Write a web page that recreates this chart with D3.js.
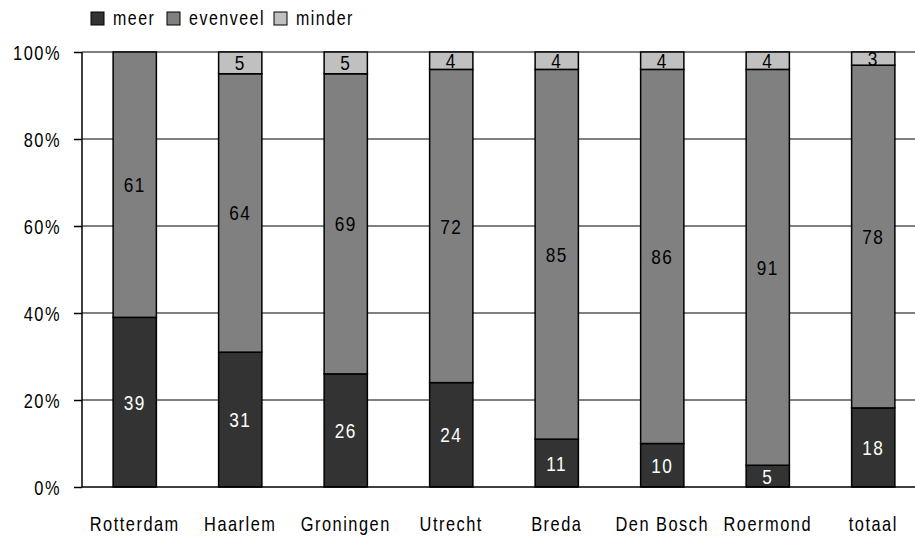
<!DOCTYPE html>
<html lang="nl">
<head>
<meta charset="utf-8">
<script src="https://d3js.org/d3.v7.min.js"></script>
<style>
  body { margin: 0; background: #fff; overflow: hidden; }
  text { font-family: "Liberation Sans", Arial, sans-serif; }
</style>
</head>
<body>
<script>
const categories = ["Rotterdam", "Haarlem", "Groningen", "Utrecht", "Breda", "Den Bosch", "Roermond", "totaal"];
const meer     = [39, 31, 26, 24, 11, 10, 5, 18];
const evenveel = [61, 64, 69, 72, 85, 86, 91, 78];
const minder   = [0, 5, 5, 4, 4, 4, 4, 3];
const seriesNames = ["meer", "evenveel", "minder"];
const yTicks = [0, 20, 40, 60, 80, 100];

const width = 915, height = 538;
const narrow = 0.82; // squeeze factor to imitate a narrow font
const colors = { meer: "#333333", evenveel: "#808080", minder: "#c0c0c0" };
const labelColors = { meer: "#ffffff", evenveel: "#000000", minder: "#000000" };

const svg = d3.select("body").append("svg")
  .attr("width", width).attr("height", height);

const x = d3.scaleBand().domain(categories).range([82, 926]).paddingInner(0.59).paddingOuter(0.295);
const y = d3.scaleLinear().domain([0, 1]).range([487, 52]);

// narrow text helper
function narrowText(sel, px, py, size, anchor) {
  return sel.append("text")
    .attr("transform", `translate(${px},${py}) scale(${narrow},1)`)
    .attr("text-anchor", anchor || "start")
    .attr("font-size", size)
    .attr("letter-spacing", 1.5 / narrow);
}

// gridlines
svg.append("g").selectAll("line").data(yTicks.slice(1)).enter().append("line")
  .attr("x1", 82).attr("x2", width)
  .attr("y1", d => y(d / 100)).attr("y2", d => y(d / 100))
  .attr("stroke", "#000").attr("stroke-width", 1);

// stacked data, normalised to 100%
const rows = categories.map((c, i) => ({ cat: c, meer: meer[i], evenveel: evenveel[i], minder: minder[i] }));
const stacked = d3.stack().keys(seriesNames).offset(d3.stackOffsetExpand)(rows);

const groups = svg.append("g").selectAll("g").data(stacked).enter().append("g")
  .attr("fill", d => colors[d.key]);

groups.selectAll("rect").data(d => d.filter(p => p[1] > p[0])).enter().append("rect")
  .attr("x", d => x(d.data.cat))
  .attr("width", x.bandwidth())
  .attr("y", d => y(d[1]))
  .attr("height", d => y(d[0]) - y(d[1]))
  .attr("stroke", "#000").attr("stroke-width", 1.5);

// value labels
stacked.forEach(s => {
  s.filter(p => p[1] > p[0]).forEach(d => {
    narrowText(svg, x(d.data.cat) + x.bandwidth() / 2, (y(d[0]) + y(d[1])) / 2 + 7.5, 21, "middle")
      .attr("fill", labelColors[s.key])
      .text(d.data[s.key]);
  });
});

// y axis
const yAxis = svg.append("g").attr("transform", "translate(82,0)")
  .call(d3.axisLeft(y).tickValues(yTicks.map(t => t / 100)).tickFormat("").tickSize(8));
yAxis.select(".domain").attr("stroke", "#000").attr("stroke-width", 1.5).attr("d", "M0," + y(1) + "V" + y(0));
yAxis.selectAll(".tick line").attr("stroke-width", 1.5);
yTicks.forEach(t => {
  narrowText(svg, 61, y(t / 100) + 7.5, 20, "end").attr("fill", "#000").text(t + "%");
});

// x baseline
svg.append("line").attr("x1", 82).attr("x2", width).attr("y1", y(0)).attr("y2", y(0))
  .attr("stroke", "#000").attr("stroke-width", 1.5);

// category labels
categories.forEach(c => {
  narrowText(svg, x(c) + x.bandwidth() / 2, 531, 20, "middle").text(c);
});

// legend
const legendX = [91, 167, 274];
seriesNames.forEach((s, i) => {
  svg.append("rect").attr("x", legendX[i]).attr("y", 12).attr("width", 13).attr("height", 13)
    .attr("fill", colors[s]).attr("stroke", "#000").attr("stroke-width", 1);
  narrowText(svg, legendX[i] + 22, 25, 19.5, "start").text(s);
});
</script>
</body>
</html>
